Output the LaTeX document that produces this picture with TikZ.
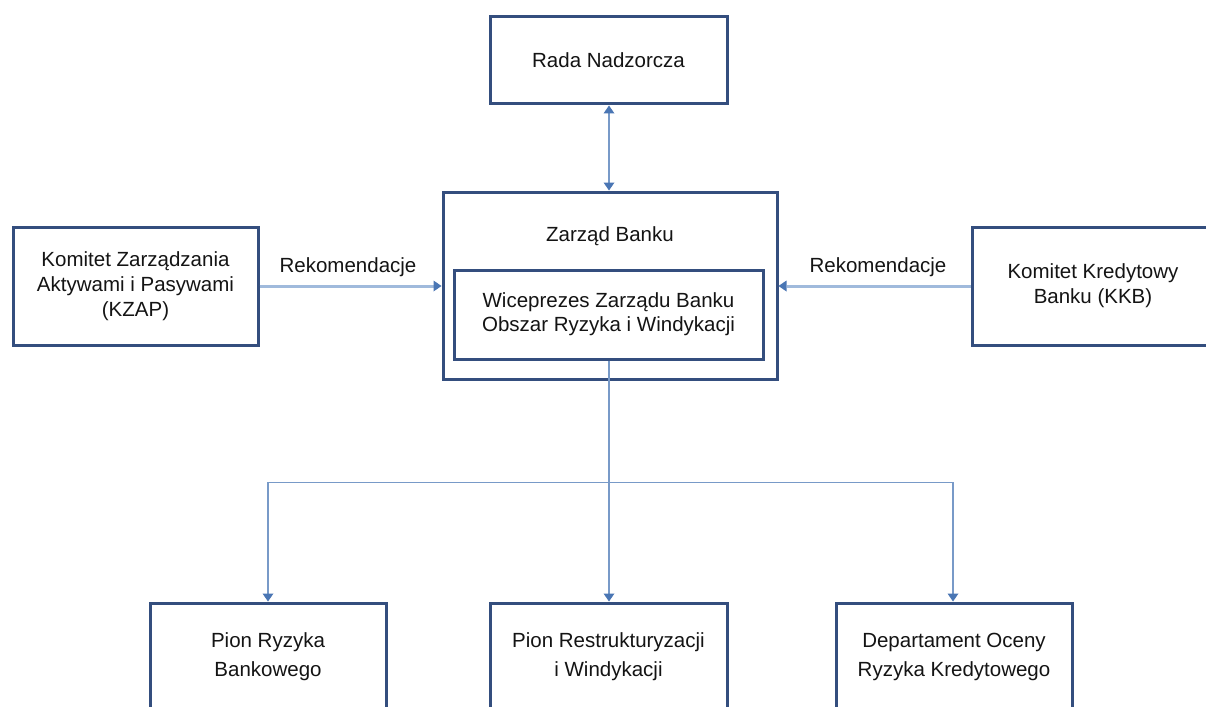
\documentclass[tikz,border=0pt]{standalone}
\usepackage{fontspec}
\setmainfont{Liberation Sans}
\usetikzlibrary{arrows.meta}
\definecolor{boxblue}{RGB}{52,78,126}
\definecolor{linkblue}{RGB}{120,154,200}
\definecolor{linklight}{RGB}{160,186,220}
\definecolor{tipblue}{RGB}{74,118,180}
\definecolor{txt}{RGB}{20,20,20}
\tikzset{
  orgbox/.style={draw=boxblue, line width=3pt, fill=white, inner sep=0pt, align=center,
    text=txt, font=\fontsize{20.5}{25}\selectfont},
  lbl/.style={text=txt, inner sep=0pt, font=\fontsize{20.5}{25}\selectfont},
  tiphead/.tip={Triangle[width=11pt,length=8pt,fill=tipblue,color=tipblue,line width=0pt]},
  tip/.style={-tiphead},
  link/.style={draw=linkblue, line width=1.5pt},
  hlink/.style={draw=linklight, line width=3pt},
}
\begin{document}
\begin{tikzpicture}[x=1pt,y=-1pt]
\useasboundingbox (0,0) rectangle (1206,706);
\clip (0,0) rectangle (1206,706);
\fill[white] (0,0) rectangle (1206,706);

% boxes
\node[orgbox, minimum width=237pt, minimum height=87pt] (rada) at (608.5,60.5) {Rada Nadzorcza};
\node[orgbox, minimum width=334pt, minimum height=187pt] (zarzad) at (610,285.5) {};
\node[lbl] (zarzadt) at (610,236) {Zarząd Banku};
\node[orgbox, minimum width=309pt, minimum height=89pt, font=\fontsize{20.5}{24}\selectfont] (wice) at (608.5,314.5) {Wiceprezes Zarządu Banku\\Obszar Ryzyka i Windykacji};
\node[orgbox, minimum width=245pt, minimum height=118pt] (kzap) at (135.5,286) {Komitet Zarządzania\\Aktywami i Pasywami\\(KZAP)};
\node[orgbox, minimum width=242pt, minimum height=118pt] (kkb) at (1093,286) {Komitet Kredytowy\\Banku (KKB)};
\node[orgbox, minimum width=236pt, minimum height=108pt, font=\fontsize{20.5}{29}\selectfont] (pion1) at (268,657) {Pion Ryzyka\\Bankowego};
\node[orgbox, minimum width=237pt, minimum height=108pt, font=\fontsize{20.5}{29}\selectfont] (pion2) at (608.5,657) {Pion Restrukturyzacji\\i Windykacji};
\node[orgbox, minimum width=236pt, minimum height=108pt, font=\fontsize{20.5}{29}\selectfont] (dept) at (954,657) {Departament Oceny\\Ryzyka Kredytowego};

% connectors
\draw[link, tiphead-tiphead]
  ([xshift=0.5pt]rada.south) -- ([xshift=-1pt]zarzad.north);
\draw[hlink, tip] (kzap.east) -- (zarzad.west |- kzap.east);
\draw[hlink, tip] (kkb.west) -- (zarzad.east |- kkb.west);
\node[lbl] (rek1) at (348,267) {Rekomendacje};
\node[lbl] (rek2) at (878,267) {Rekomendacje};

\coordinate (junc) at (609,482.5);
\draw[link, tip] ([xshift=0.5pt]wice.south) -- (junc) -- ([xshift=0.5pt]pion2.north);
\draw[link, line width=1.2pt, tip] (junc) -| (pion1.north);
\draw[link, line width=1.2pt, tip] (junc) -| ([xshift=-1pt]dept.north);
\end{tikzpicture}
\end{document}
